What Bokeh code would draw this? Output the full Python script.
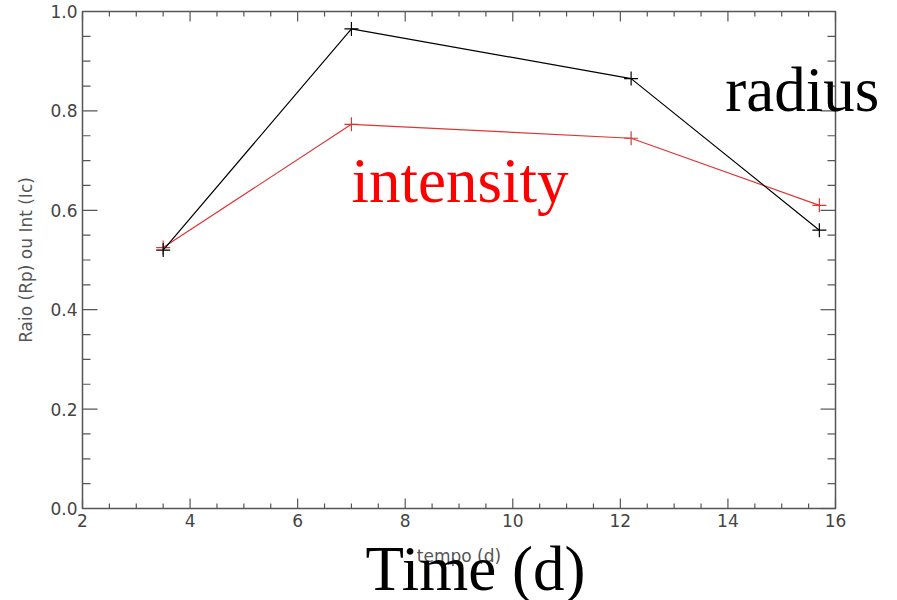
import math
from bokeh.plotting import figure
from bokeh.models import Range1d
from bokeh.embed import file_html
from bokeh.resources import INLINE
from bokeh.core.properties import value

# ---- data ----
tempo = [3.5, 7.0, 12.2, 15.7]
radius = [0.52, 0.965, 0.865, 0.56]
intensity = [0.525, 0.773, 0.745, 0.61]

x_ticks = [2, 4, 6, 8, 10, 12, 14, 16]
x_tick_labels = ["2", "4", "6", "8", "10", "12", "14", "16"]
x_minor_ticks = [2.5, 3, 3.5, 4.5, 5, 5.5, 6.5, 7, 7.5, 8.5, 9, 9.5, 10.5, 11, 11.5,
                 12.5, 13, 13.5, 14.5, 15, 15.5]
y_ticks = [0.0, 0.2, 0.4, 0.6, 0.8, 1.0]
y_tick_labels = ["0.0", "0.2", "0.4", "0.6", "0.8", "1.0"]
y_minor_ticks = [0.05, 0.1, 0.15, 0.25, 0.3, 0.35, 0.45, 0.5, 0.55, 0.65, 0.7, 0.75,
                 0.85, 0.9, 0.95]
x_min, x_max = 2, 16
y_min, y_max = 0.0, 1.0

# ---- canvas geometry (plot box: 82..835 px horizontally, 11..508 px vertically) ----
W, H = 897, 600
BL, BR, BT, BB = 82, 835, 11, 508
sx = (BR - BL) / (x_max - x_min)
sy = (BB - BT) / (y_max - y_min)
xr = Range1d(x_min - BL / sx, x_max + (W - BR) / sx)
yr = Range1d(y_min - (H - BB) / sy, y_max + BT / sy)

p = figure(width=W, height=H, x_range=xr, y_range=yr,
           output_backend="svg", toolbar_location=None,
           x_axis_location=None, y_axis_location=None, min_border=0)
p.outline_line_color = None
p.xgrid.visible = False
p.ygrid.visible = False
p.background_fill_color = "white"
p.border_fill_color = "white"

AX = "#555555"
LBL = "#444444"
SANS = value("DejaVu Sans")
SERIF = value("Liberation Serif")

# plot box
p.quad(left=[x_min], right=[x_max], bottom=[y_min], top=[y_max],
       fill_color=None, line_color=AX, line_width=1.5)

# ticks (inward, on all four sides)
n_xM, n_xm = len(x_ticks), len(x_minor_ticks)
n_yM, n_ym = len(y_ticks), len(y_minor_ticks)
up, down, right, left = math.pi / 2, -math.pi / 2, 0.0, math.pi
tick_kw = dict(length_units="screen", line_color=AX, line_width=1.2)
p.ray(x=x_ticks, y=[y_min] * n_xM, length=10, angle=up, **tick_kw)
p.ray(x=x_minor_ticks, y=[y_min] * n_xm, length=5, angle=up, **tick_kw)
p.ray(x=x_ticks, y=[y_max] * n_xM, length=10, angle=down, **tick_kw)
p.ray(x=x_minor_ticks, y=[y_max] * n_xm, length=5, angle=down, **tick_kw)
p.ray(x=[x_min] * n_yM, y=y_ticks, length=15, angle=right, **tick_kw)
p.ray(x=[x_min] * n_ym, y=y_minor_ticks, length=8, angle=right, **tick_kw)
p.ray(x=[x_max] * n_yM, y=y_ticks, length=15, angle=left, **tick_kw)
p.ray(x=[x_max] * n_ym, y=y_minor_ticks, length=8, angle=left, **tick_kw)

# tick labels
p.text(x=x_ticks, y=[y_min] * n_xM, text=x_tick_labels, y_offset=5,
       text_align="center", text_baseline="top", text_font=SANS,
       text_font_size="17px", text_color=LBL)
p.text(x=[x_min] * n_yM, y=y_ticks, text=y_tick_labels, x_offset=-5,
       text_align="right", text_baseline="middle", text_font=SANS,
       text_font_size="17px", text_color=LBL)

# axis titles
p.text(x=[(x_min + x_max) / 2], y=[y_min], text=["tempo (d)"], y_offset=47,
       text_align="center", text_baseline="middle", text_font=SANS,
       text_font_size="17px", text_color="#555555")
p.text(x=[x_min], y=[(y_min + y_max) / 2], text=["Raio (Rp) ou Int (Ic)"],
       x_offset=-57, angle=math.pi / 2, text_align="center", text_baseline="middle",
       text_font=SANS, text_font_size="17px", text_color="#555555")

# series
RED = "#e03535"
p.line(tempo, intensity, line_color=RED, line_width=1.2)
p.scatter(tempo, intensity, marker="cross", size=14, line_color=RED, line_width=1.2)
p.line(tempo, radius, line_color="black", line_width=1.2)
p.scatter(tempo, radius, marker="cross", size=14, line_color="black", line_width=1.2)

# large overlaid annotations
big = dict(text_font=SERIF, text_font_size="63px", text_align="left",
           text_baseline="alphabetic", y_offset=-22)
p.text(x=[13.95], y=[0.797], text=["radius"], text_color="black", **big)
p.text(x=[7.0], y=[0.614], text=["intensity"], text_color="#ff0000", **big)
p.text(x=[7.26], y=[-0.165], text=["Time (d)"], text_color="black", **big)

open("out.html", "w").write(file_html(p, INLINE))
